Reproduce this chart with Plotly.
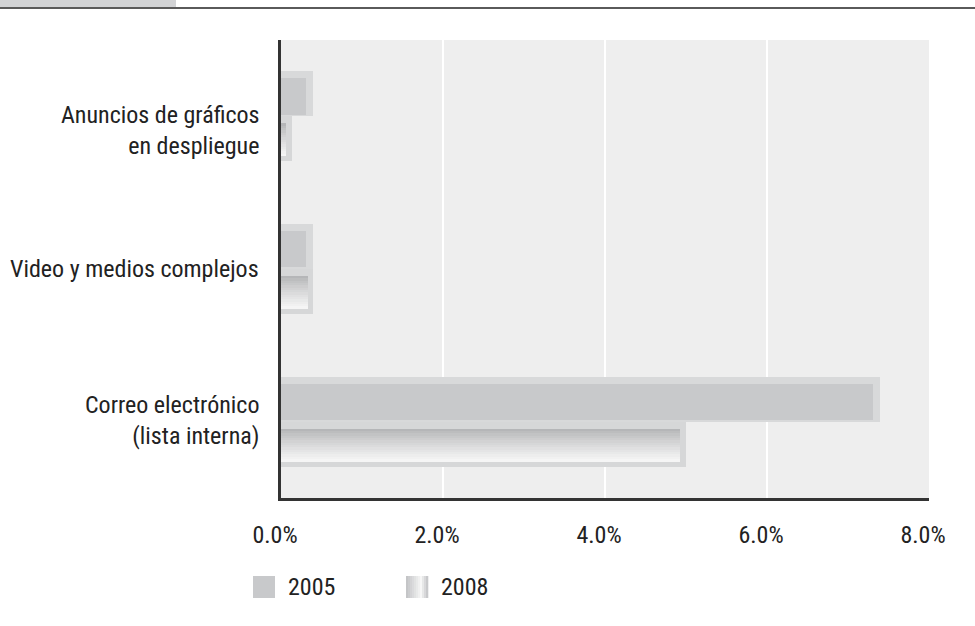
import plotly.graph_objects as go

# ---- data ----
categories = ["Anuncios de gráficos<br>en despliegue",
              "Video y medios complejos",
              "Correo electrónico<br>(lista interna)"]
v2005 = [0.4, 0.4, 7.4]
v2008 = [0.13, 0.4, 5.0]
series_names = ["2005", "2008"]
xtick_vals = [0, 2, 4, 6, 8]
xtick_text = ["0.0%", "2.0%", "4.0%", "6.0%", "8.0%"]

FONT = "Roboto Condensed, Roboto, sans-serif"
FS = 24
W, H = 975, 626
L, R, T, B = 281, 46, 40, 128
PW = W - L - R
PH = H - T - B

BAR_W = 0.295     # bar thickness in category units
BEVEL = 0.09      # end bevel in % units


def lerp(c1, c2, t):
    return "rgb(%d,%d,%d)" % tuple(round(a + (b - a) * t) for a, b in zip(c1, c2))


fig = go.Figure()

# 2005: outer (bevel) + inner flat fill
fig.add_trace(go.Bar(y=categories, x=v2005, orientation="h", name=series_names[0],
                     marker=dict(color="#d8d9da", line=dict(width=0)),
                     width=BAR_W, offset=-BAR_W, showlegend=False, hoverinfo="skip"))
fig.add_trace(go.Bar(y=categories, x=[max(v - BEVEL, 0) for v in v2005], orientation="h",
                     marker=dict(color="#c8c9cb", line=dict(width=0)),
                     width=BAR_W - 0.055, offset=-BAR_W + 0.045, showlegend=False,
                     hoverinfo="skip"))

# 2008: outer border + inner vertical gradient
fig.add_trace(go.Bar(y=categories, x=v2008, orientation="h", name=series_names[1],
                     marker=dict(color="#d6d7d8", line=dict(width=0)),
                     width=BAR_W, offset=0, showlegend=False, hoverinfo="skip"))
n = 14
top, bot = 0.045, BAR_W - 0.035
step = (bot - top) / n
c_top, c_bot = (176, 177, 179), (247, 247, 247)
for i in range(n):
    t = (i + 0.5) / n
    fig.add_trace(go.Bar(y=categories, x=[max(v - BEVEL * 0.8, 0) for v in v2008],
                         orientation="h",
                         marker=dict(color=lerp(c_top, c_bot, t ** 0.8), line=dict(width=0)),
                         width=step + 0.002, offset=top + i * step, showlegend=False,
                         hoverinfo="skip"))

# ---- header decoration ----
def px_x(p):
    return (p - L) / PW


def px_y(p):
    return 1 - (p - T) / PH


shapes = [
    dict(type="rect", xref="paper", yref="paper", x0=px_x(0), x1=px_x(176),
         y0=px_y(7), y1=px_y(0), fillcolor="#d2d3d5", line=dict(width=0), layer="above"),
    dict(type="rect", xref="paper", yref="paper", x0=px_x(0), x1=px_x(W),
         y0=px_y(9), y1=px_y(7), fillcolor="#5a5a5a", line=dict(width=0), layer="above"),
]

# ---- category labels (as annotations so each can sit like the reference) ----
label_shift = [-14, 0, 1]
annotations = []
for cat, ys in zip(categories, label_shift):
    annotations.append(dict(xref="paper", yref="y", x=px_x(261), y=cat, text=cat,
                            showarrow=False, xanchor="right", yanchor="middle",
                            align="right", yshift=ys,
                            font=dict(family=FONT, size=FS, color="#222222")))

# ---- custom legend ----
sw = 22
legend_items = [(253, series_names[0]), (406, series_names[1])]
for k, (x0, name) in enumerate(legend_items):
    y0, y1 = 576, 598
    if k == 0:
        shapes.append(dict(type="rect", xref="paper", yref="paper",
                           x0=px_x(x0), x1=px_x(x0 + sw), y0=px_y(y1), y1=px_y(y0),
                           fillcolor="#c8c9cb", line=dict(width=0)))
    else:
        m = 11
        cols = [(196, 197, 199), (247, 247, 247), (200, 201, 203)]
        for j in range(m):
            t = j / (m - 1)
            if t < 0.7:
                c = lerp(cols[0], cols[1], t / 0.7)
            else:
                c = lerp(cols[1], cols[2], (t - 0.7) / 0.3)
            xa = x0 + sw * j / m
            xb = x0 + sw * (j + 1) / m + 0.3
            shapes.append(dict(type="rect", xref="paper", yref="paper",
                               x0=px_x(xa), x1=px_x(xb), y0=px_y(y1), y1=px_y(y0),
                               fillcolor=c, line=dict(width=0)))
    annotations.append(dict(xref="paper", yref="paper", x=px_x(x0 + sw + 11),
                            y=px_y((y0 + y1) / 2), text=name, showarrow=False,
                            xanchor="left", yanchor="middle",
                            font=dict(family=FONT, size=FS, color="#222222")))

fig.update_layout(
    width=W, height=H,
    margin=dict(l=L, r=R, t=T, b=B, autoexpand=False),
    paper_bgcolor="white", plot_bgcolor="#eeeeee",
    barmode="overlay", bargap=0,
    showlegend=False,
    font=dict(family=FONT, size=FS, color="#222222"),
    shapes=shapes, annotations=annotations,
)
fig.update_xaxes(range=[0, 8], tickvals=xtick_vals, ticktext=xtick_text,
                 showgrid=True, gridcolor="white", gridwidth=2, zeroline=False,
                 showline=True, linecolor="#333333", linewidth=2.5,
                 ticks="", ticklabelstandoff=13, ticklabelshift=-6,
                 tickfont=dict(family=FONT, size=FS, color="#222222"), fixedrange=True)
fig.update_yaxes(type="category", categoryorder="array", categoryarray=categories,
                 range=[2.5, -0.5], showgrid=False, zeroline=False,
                 showline=True, linecolor="#333333", linewidth=2.5,
                 ticks="", showticklabels=False, fixedrange=True)

fig.write_html("out.html", config={"displayModeBar": False},
               post_script="document.body.style.margin='0';")
